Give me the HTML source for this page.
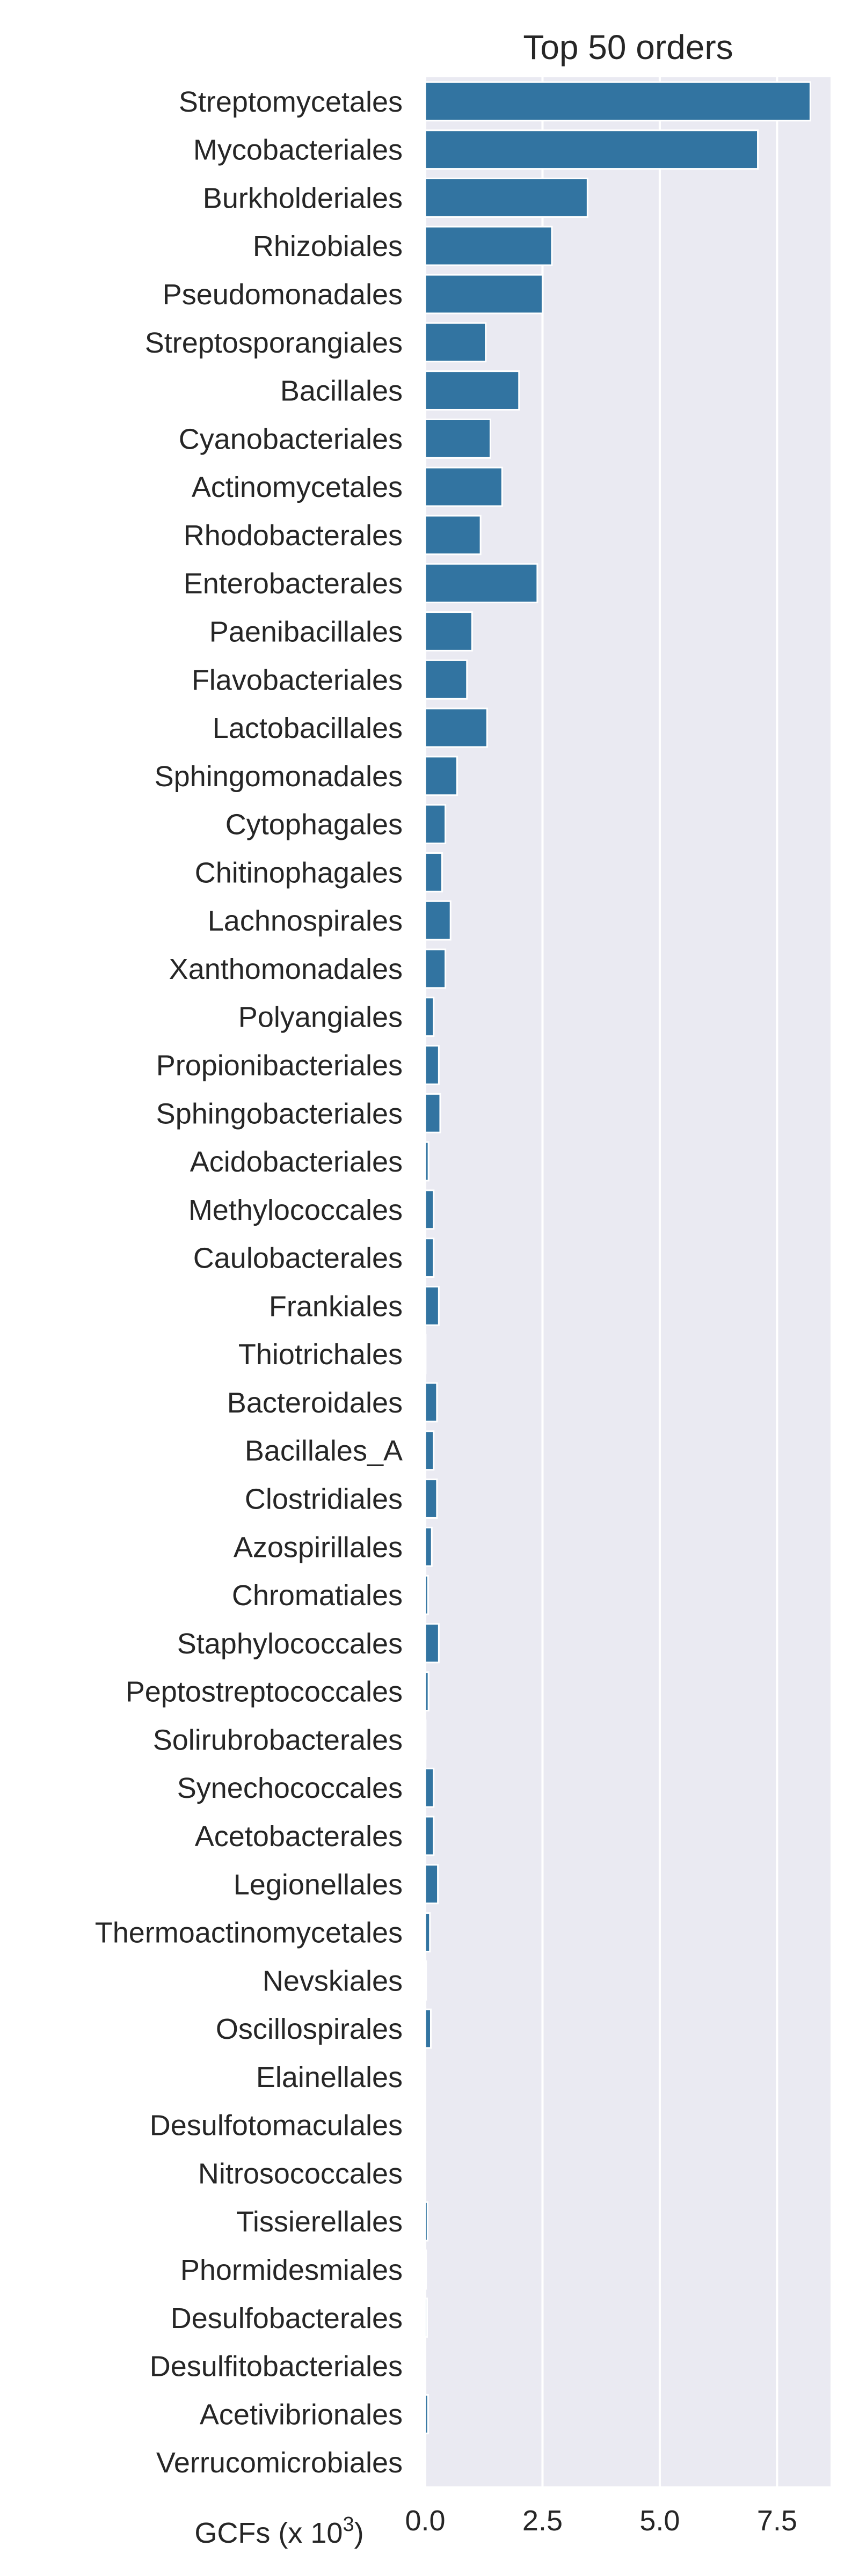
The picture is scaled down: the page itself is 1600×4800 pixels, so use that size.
<!DOCTYPE html>
<html><head><meta charset="utf-8"><style>
html,body{margin:0;padding:0;background:#fff;}
svg{display:block;font-family:"Liberation Sans",sans-serif;}
</style></head><body>
<svg id="chart" width="1600" height="4800" viewBox="0 0 1600 4800">
<rect x="0" y="0" width="1600" height="4800" fill="#fff"/>
<rect id="plotbg" fill="#eaeaf2"/>
<g id="grid"></g><g id="bars"></g><g id="ylabels"></g><g id="xticks"></g>
<text x="1170" y="110" font-size="64" fill="#262626" text-anchor="middle">Top 50 orders</text>
<text x="520" y="4738" font-size="54" fill="#262626" text-anchor="middle">GCFs (x 10<tspan font-size="38" dy="-22">3</tspan><tspan dy="22">)</tspan></text>
</svg>
<script>
const categories = ["Streptomycetales","Mycobacteriales","Burkholderiales","Rhizobiales","Pseudomonadales","Streptosporangiales","Bacillales","Cyanobacteriales","Actinomycetales","Rhodobacterales","Enterobacterales","Paenibacillales","Flavobacteriales","Lactobacillales","Sphingomonadales","Cytophagales","Chitinophagales","Lachnospirales","Xanthomonadales","Polyangiales","Propionibacteriales","Sphingobacteriales","Acidobacteriales","Methylococcales","Caulobacterales","Frankiales","Thiotrichales","Bacteroidales","Bacillales_A","Clostridiales","Azospirillales","Chromatiales","Staphylococcales","Peptostreptococcales","Solirubrobacterales","Synechococcales","Acetobacterales","Legionellales","Thermoactinomycetales","Nevskiales","Oscillospirales","Elainellales","Desulfotomaculales","Nitrosococcales","Tissierellales","Phormidesmiales","Desulfobacterales","Desulfitobacteriales","Acetivibrionales","Verrucomicrobiales"];
const values = [8.21,7.09,3.46,2.70,2.50,1.29,2.00,1.39,1.64,1.18,2.39,1.00,0.89,1.32,0.68,0.43,0.36,0.54,0.43,0.18,0.29,0.32,0.07,0.18,0.18,0.29,0.01,0.25,0.18,0.25,0.14,0.06,0.29,0.07,0.01,0.18,0.18,0.27,0.10,0.02,0.12,0.005,0.005,0.005,0.05,0.02,0.04,0.005,0.06,0.005];
const tickValues = [0, 2.5, 5, 7.5];
const tickLabels = ["0.0","2.5","5.0","7.5"];
const xMax = 8.64;

const NS="http://www.w3.org/2000/svg";
const L=792, R=1547, T=144, B=4633;
const xs = v => L + v/xMax*(R-L);
const band = (B-T)/categories.length;
const yc = i => T + band*(i+0.5);
function mk(tag, attrs, parent){const e=document.createElementNS(NS,tag);for(const k in attrs)e.setAttribute(k,attrs[k]);document.getElementById(parent).appendChild(e);return e;}
const bg=document.getElementById('plotbg');
bg.setAttribute('x',L);bg.setAttribute('y',T);bg.setAttribute('width',R-L);bg.setAttribute('height',B-T);
tickValues.forEach((v,i)=>{
  const g=mk('line',{x1:xs(v),x2:xs(v),y1:T,y2:B,stroke:'#fff','stroke-width':4},'grid');
  
  
  const t=mk('text',{x:xs(v),y:B+82,'font-size':54,fill:'#262626','text-anchor':'middle'},'xticks');
  t.textContent=tickLabels[i];
  
  
});
categories.forEach((c,i)=>{
  const h=band*0.8;
  const b=mk('rect',{x:L,y:yc(i)-h/2,width:Math.max(xs(values[i])-L,0.5),height:h,fill:'#3274a1',stroke:'#fff','stroke-width':3},'bars');
  
  
  const t=mk('text',{x:750,y:yc(i)+19,'font-size':54,fill:'#262626','text-anchor':'end'},'ylabels');
  t.textContent=c;
  
  
});
</script>
</body></html>
